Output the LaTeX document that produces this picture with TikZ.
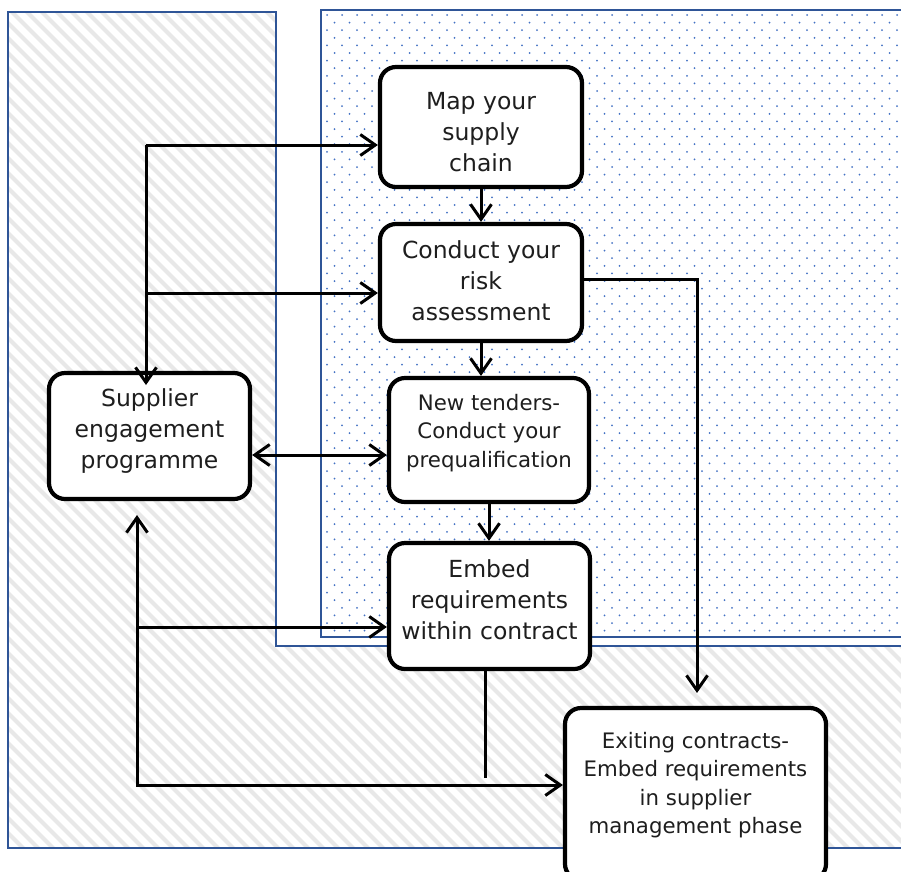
\documentclass[tikz,border=0pt]{standalone}
\usepackage{fontspec}
\setmainfont{DejaVu Sans}
\usetikzlibrary{arrows.meta}
\definecolor{bordblue}{HTML}{2F5597}
\definecolor{dotblue}{HTML}{4472C4}
\definecolor{hatchgray}{HTML}{E8E8E8}
\definecolor{txt}{HTML}{1E1E1E}
\tikzset{
  flowbox/.style={draw=black, line width=4.2pt, rounded corners=16pt, fill=white, inner sep=0pt},
  flowtext/.style={align=center, text=txt, inner sep=0pt},
  bigtext/.style={flowtext, font=\fontsize{23.5}{31}\selectfont},
  smalltext/.style={flowtext, font=\fontsize{21.3}{28.3}\selectfont},
  conn/.style={line width=3pt, draw=black, line join=miter},
  tipb/.tip={Straight Barb[length=15pt,width=21pt,line width=3pt]},
  arr/.style={conn, -tipb},
  dblarr/.style={conn, tipb-tipb},
  region/.style={draw=bordblue, line width=2.4pt}
}
\begin{document}
\begin{tikzpicture}[x=1pt,y=-1pt]
\useasboundingbox (0,0) rectangle (901,871);
\fill[white] (0,0) rectangle (901,871);
% hatched L-shaped region
\begin{scope}
\clip (8,12) -- (276,12) -- (276,646) -- (910,646) -- (910,848) -- (8,848) -- cycle;
\foreach \c in {-900,-885,...,915} {
  \draw[hatchgray, line width=4pt] (\c,0) -- (\c+900,900);
}
\end{scope}
\draw[region] (910,646) -- (276,646) -- (276,12) -- (8,12) -- (8,848) -- (910,848);
% dotted region
\fill[white] (321,10) rectangle (910,637);
\begin{scope}
\clip (321,10) rectangle (910,637);
\foreach \r in {0,...,82} {
  \foreach \cc in {0,...,40} {
    \fill[dotblue] ({327+15*\cc+7.5*mod(\r,2)},{15+7.6*\r}) circle (1.0);
  }
}
\end{scope}
\draw[region] (910,10) -- (321,10) -- (321,637) -- (910,637);

% boxes
\node[flowbox, minimum width=202pt, minimum height=120pt] (map) at (481,127) {};
\node[flowbox, minimum width=202pt, minimum height=117pt] (risk) at (481,282.5) {};
\node[flowbox, minimum width=200pt, minimum height=124pt] (tend) at (489,440) {};
\node[flowbox, minimum width=201pt, minimum height=126pt] (embed) at (489.5,606) {};
\node[flowbox, minimum width=201pt, minimum height=126pt] (sup) at (149.5,436) {};
\node[flowbox, minimum width=261pt, minimum height=172pt] (exit) at (695.5,794) {};
% texts
\node[bigtext] (mapT) at ([yshift=-5pt]map.center) {Map your\\supply\\chain};
\node[bigtext] (riskT) at ([yshift=1.5pt]risk.center) {Conduct your\\risk\\assessment};
\node[smalltext] (tendT) at ([yshift=7pt]tend.center) {New tenders-\\Conduct your\\prequalification};
\node[bigtext] (embedT) at ([yshift=6.5pt]embed.center) {Embed\\requirements\\within contract};
\node[bigtext] (supT) at ([yshift=4.5pt]sup.center) {Supplier\\engagement\\programme};
\node[smalltext] (exitT) at ([yshift=9pt]exit.center) {Exiting contracts-\\Embed requirements\\in supplier\\management phase};

% coordinates
\coordinate (c1) at (146,145);
\coordinate (c2) at (146,293);
\coordinate (c3) at (146,385);
\coordinate (d1) at (250,455);
\coordinate (e1) at (697,279);
\coordinate (e2) at (697,693);
\coordinate (f1) at (485,778);
\coordinate (g0) at (137,515);
\coordinate (g1) at (137,627);
\coordinate (g2) at (137,785);

% connectors
\draw[arr] (c1) -- (c1 -| map.west);
\draw[arr] (c2) -- (c2 -| risk.west);
\draw[arr] (c1) -- (c3);
\draw[arr] (map.south) -- (map.south |- risk.north);
\draw[arr] (risk.south) -- (risk.south |- tend.north);
\draw[dblarr] (d1 -| sup.east) -- (d1 -| tend.west);
\draw[arr] (tend.south) -- (tend.south |- embed.north);
\draw[arr] (e1 -| risk.east) -- (e1) -- (e2);
\draw[conn] (f1 |- embed.south) -- (f1);
\draw[dblarr] (g0) -- (g2) -- (g2 -| exit.west);
\draw[arr] (g1) -- (g1 -| embed.west);
\end{tikzpicture}
\end{document}
